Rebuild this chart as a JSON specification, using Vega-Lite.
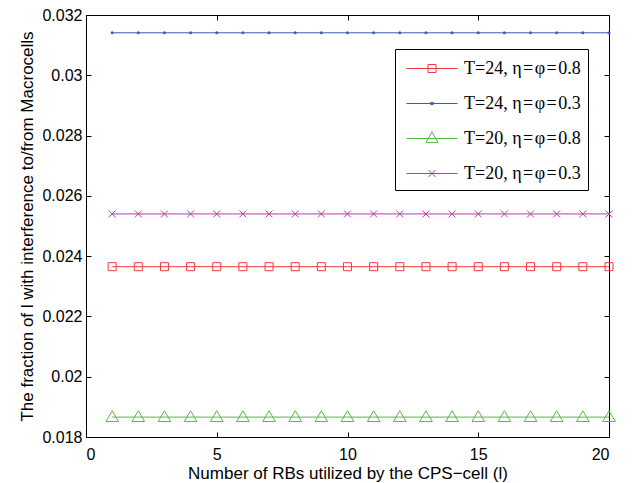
{
  "$schema": "https://vega.github.io/schema/vega-lite/v6.json",
  "width": 523,
  "height": 422,
  "autosize": {"type": "none"},
  "padding": {"left": 86, "top": 15, "right": 31, "bottom": 46},
  "background": "white",
  "config": {
    "view": {"stroke": "black", "strokeWidth": 1},
    "font": "Liberation Sans",
    "axis": {"grid": false, "domainColor": "black", "tickColor": "black", "labelColor": "black", "titleColor": "black", "labelFont": "Liberation Sans", "titleFont": "Liberation Sans", "labelFontSize": 16, "titleFontSize": 17, "titleFontWeight": "normal"}
  },
  "data": {"values": [
    {"s":"A","x":1,"y":0.02365},{"s":"A","x":2,"y":0.02365},{"s":"A","x":3,"y":0.02365},{"s":"A","x":4,"y":0.02365},{"s":"A","x":5,"y":0.02365},{"s":"A","x":6,"y":0.02365},{"s":"A","x":7,"y":0.02365},{"s":"A","x":8,"y":0.02365},{"s":"A","x":9,"y":0.02365},{"s":"A","x":10,"y":0.02365},{"s":"A","x":11,"y":0.02365},{"s":"A","x":12,"y":0.02365},{"s":"A","x":13,"y":0.02365},{"s":"A","x":14,"y":0.02365},{"s":"A","x":15,"y":0.02365},{"s":"A","x":16,"y":0.02365},{"s":"A","x":17,"y":0.02365},{"s":"A","x":18,"y":0.02365},{"s":"A","x":19,"y":0.02365},{"s":"A","x":20,"y":0.02365},
    {"s":"B","x":1,"y":0.03141},{"s":"B","x":2,"y":0.03141},{"s":"B","x":3,"y":0.03141},{"s":"B","x":4,"y":0.03141},{"s":"B","x":5,"y":0.03141},{"s":"B","x":6,"y":0.03141},{"s":"B","x":7,"y":0.03141},{"s":"B","x":8,"y":0.03141},{"s":"B","x":9,"y":0.03141},{"s":"B","x":10,"y":0.03141},{"s":"B","x":11,"y":0.03141},{"s":"B","x":12,"y":0.03141},{"s":"B","x":13,"y":0.03141},{"s":"B","x":14,"y":0.03141},{"s":"B","x":15,"y":0.03141},{"s":"B","x":16,"y":0.03141},{"s":"B","x":17,"y":0.03141},{"s":"B","x":18,"y":0.03141},{"s":"B","x":19,"y":0.03141},{"s":"B","x":20,"y":0.03141},
    {"s":"C","x":1,"y":0.01866},{"s":"C","x":2,"y":0.01866},{"s":"C","x":3,"y":0.01866},{"s":"C","x":4,"y":0.01866},{"s":"C","x":5,"y":0.01866},{"s":"C","x":6,"y":0.01866},{"s":"C","x":7,"y":0.01866},{"s":"C","x":8,"y":0.01866},{"s":"C","x":9,"y":0.01866},{"s":"C","x":10,"y":0.01866},{"s":"C","x":11,"y":0.01866},{"s":"C","x":12,"y":0.01866},{"s":"C","x":13,"y":0.01866},{"s":"C","x":14,"y":0.01866},{"s":"C","x":15,"y":0.01866},{"s":"C","x":16,"y":0.01866},{"s":"C","x":17,"y":0.01866},{"s":"C","x":18,"y":0.01866},{"s":"C","x":19,"y":0.01866},{"s":"C","x":20,"y":0.01866},
    {"s":"D","x":1,"y":0.0254},{"s":"D","x":2,"y":0.0254},{"s":"D","x":3,"y":0.0254},{"s":"D","x":4,"y":0.0254},{"s":"D","x":5,"y":0.0254},{"s":"D","x":6,"y":0.0254},{"s":"D","x":7,"y":0.0254},{"s":"D","x":8,"y":0.0254},{"s":"D","x":9,"y":0.0254},{"s":"D","x":10,"y":0.0254},{"s":"D","x":11,"y":0.0254},{"s":"D","x":12,"y":0.0254},{"s":"D","x":13,"y":0.0254},{"s":"D","x":14,"y":0.0254},{"s":"D","x":15,"y":0.0254},{"s":"D","x":16,"y":0.0254},{"s":"D","x":17,"y":0.0254},{"s":"D","x":18,"y":0.0254},{"s":"D","x":19,"y":0.0254},{"s":"D","x":20,"y":0.0254}
  ]},
  "resolve": {"axis": {"x": "independent", "y": "independent"}},
  "layer": [
    {
      "mark": {"type": "line", "strokeWidth": 1},
      "encoding": {
        "x": {"field": "x", "type": "quantitative", "scale": {"domain": [0, 20], "nice": false, "zero": false},
              "axis": {"values": [0, 5, 10, 15, 20], "tickSize": -5, "labelPadding": 14, "title": "Number of RBs utilized by the CPS\u2212cell (l)", "titlePadding": 3}},
        "y": {"field": "y", "type": "quantitative", "scale": {"domain": [0.018, 0.032], "nice": false, "zero": false},
              "axis": {"values": [0.018, 0.02, 0.022, 0.024, 0.026, 0.028, 0.03, 0.032], "format": "~g", "tickSize": -5, "labelPadding": 9, "title": "The fraction of l with interference to/from Macrocells", "titlePadding": 5}},
        "color": {"field": "s", "type": "nominal", "scale": {"domain": ["A", "B", "C", "D"], "range": ["#ee3a40", "#3a5cb4", "#55bb44", "#b040a8"]}}
      }
    },
    {
      "transform": [{"filter": "datum.s == 'A'"}],
      "mark": {"type": "point", "filled": false, "strokeWidth": 1, "shape": "M-1,-1H1V1H-1Z", "size": 64, "color": "#ee3a40", "opacity": 1},
      "encoding": {
        "x": {"field": "x", "type": "quantitative", "axis": {"orient": "top", "values": [0, 5, 10, 15, 20], "labels": false, "title": null, "tickSize": -5, "domain": false}},
        "y": {"field": "y", "type": "quantitative", "axis": {"orient": "right", "values": [0.018, 0.02, 0.022, 0.024, 0.026, 0.028, 0.03, 0.032], "labels": false, "title": null, "tickSize": -5, "domain": false}}
      }
    },
    {
      "transform": [{"filter": "datum.s == 'B'"}],
      "mark": {"type": "circle", "size": 9, "color": "#3a5cb4", "opacity": 1},
      "encoding": {
        "x": {"field": "x", "type": "quantitative", "axis": null},
        "y": {"field": "y", "type": "quantitative", "axis": null}
      }
    },
    {
      "transform": [{"filter": "datum.s == 'C'"}],
      "mark": {"type": "point", "filled": false, "strokeWidth": 1, "shape": "M0,-1L1,0.7H-1Z", "size": 161, "color": "#55bb44", "opacity": 1},
      "encoding": {
        "x": {"field": "x", "type": "quantitative", "axis": null},
        "y": {"field": "y", "type": "quantitative", "axis": null}
      }
    },
    {
      "transform": [{"filter": "datum.s == 'D'"}],
      "mark": {"type": "point", "filled": false, "strokeWidth": 1, "shape": "M-1,-1L1,1M-1,1L1,-1", "size": 49, "color": "#b040a8", "opacity": 1},
      "encoding": {
        "x": {"field": "x", "type": "quantitative", "axis": null},
        "y": {"field": "y", "type": "quantitative", "axis": null}
      }
    },
    {
      "transform": [{"filter": "false"}],
      "mark": {"type": "point", "filled": false, "strokeWidth": 1, "opacity": 1},
      "encoding": {
        "color": {"field": "s", "type": "nominal"},
        "shape": {"field": "s", "type": "nominal",
          "scale": {"domain": ["A", "B", "C", "D"], "range": [
            "M-0.667,0H3.583M1.125,-0.333H1.792V0.333H1.125Z",
            "M-0.667,0H3.583M1.358,-0.1H1.558V0.1H1.358ZM1.358,0H1.558M1.458,-0.1V0.1",
            "M-0.667,0H3.583M1.458,-0.55L1.958,0.33H0.958Z",
            "M-0.667,0H3.583M1.168,-0.29L1.748,0.29M1.168,0.29L1.748,-0.29"]},
          "legend": {
            "orient": "none", "legendX": 309, "legendY": 34, "title": null,
            "strokeColor": "black", "fillColor": "white", "padding": 7,
            "labelFont": "Liberation Serif", "labelFontSize": 18, "labelColor": "black",
            "labelExpr": "datum.value == 'A' ? 'T=24, \u03b7\u200a=\u200a\u03c6\u200a=\u200a0.8' : datum.value == 'B' ? 'T=24, \u03b7\u200a=\u200a\u03c6\u200a=\u200a0.3' : datum.value == 'C' ? 'T=20, \u03b7\u200a=\u200a\u03c6\u200a=\u200a0.8' : 'T=20, \u03b7\u200a=\u200a\u03c6\u200a=\u200a0.3'",
            "symbolSize": 576, "symbolStrokeWidth": 1, "rowPadding": 13, "labelOffset": 37
          }
        }
      }
    }
  ]
}
